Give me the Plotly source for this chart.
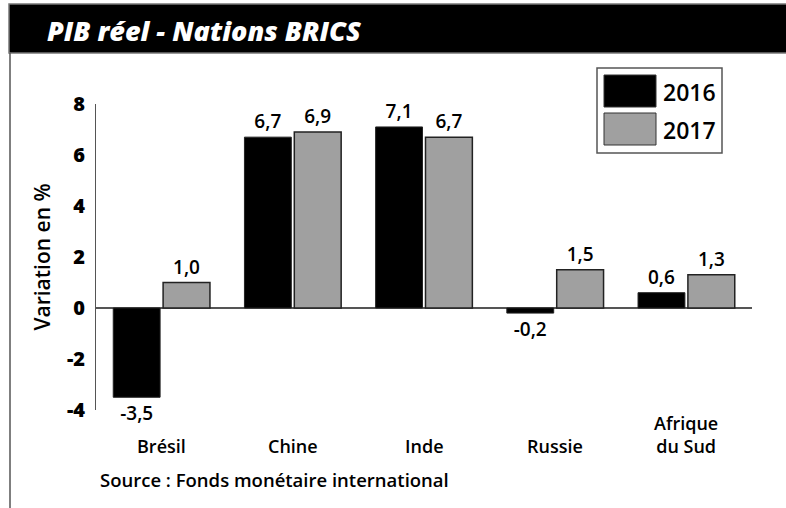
import plotly.graph_objects as go

pays = ["Brésil", "Chine", "Inde", "Russie", "Afrique<br>du Sud"]
pib_2016 = [-3.5, 6.7, 7.1, -0.2, 0.6]
pib_2017 = [1.0, 6.9, 6.7, 1.5, 1.3]
graduations = [-4, -2, 0, 2, 4, 6, 8]
libelles_grad = ["-4", "-2", "0", "2", "4", "6", "8"]

W, H = 786, 508
L, R, T, B = 96, 752, 104, 410
FONT = "Open Sans"


def px_x(x):
    return (x - L) / (R - L)


def px_y(y):
    return (B - y) / (B - T)


fig = go.Figure()
fig.add_trace(go.Bar(x=list(range(5)), y=pib_2016, name="2016",
                     marker=dict(color="#000000", line=dict(color="#222", width=1)),
                     texttemplate="%{y:.1f}", textposition="outside",
                     textfont=dict(size=19, color="black", family=FONT, weight=600),
                     cliponaxis=False, showlegend=False))
fig.add_trace(go.Bar(x=list(range(5)), y=pib_2017, name="2017",
                     marker=dict(color="#a0a0a0", line=dict(color="#222", width=1.5)),
                     texttemplate="%{y:.1f}", textposition="outside",
                     textfont=dict(size=19, color="black", family=FONT, weight=600),
                     cliponaxis=False, showlegend=False))

# bandeau du titre + cadre gauche
fig.add_shape(type="rect", xref="paper", yref="paper", x0=px_x(9), x1=px_x(810),
              y0=px_y(53), y1=px_y(4), fillcolor="black", line=dict(color="#777", width=1.5))
fig.add_shape(type="line", xref="paper", yref="paper", x0=px_x(10), x1=px_x(10),
              y0=px_y(53), y1=px_y(512), line=dict(color="#555", width=1.5))
fig.add_annotation(text="<i>PIB réel - Nations BRICS</i>", xref="paper", yref="paper",
                   x=px_x(45), y=px_y(31), xanchor="left", yanchor="middle", showarrow=False,
                   font=dict(size=27, color="white", family=FONT, weight=800))

# légende dessinée à la main
fig.add_shape(type="rect", xref="paper", yref="paper", x0=px_x(597), x1=px_x(722),
              y0=px_y(153), y1=px_y(68), fillcolor="white", line=dict(color="#555", width=1.5))
for i, (lab, col) in enumerate([("2016", "#000000"), ("2017", "#a0a0a0")]):
    top = 75 + i * 38
    fig.add_shape(type="rect", xref="paper", yref="paper", x0=px_x(604), x1=px_x(656),
                  y0=px_y(top + 32), y1=px_y(top), fillcolor=col, line=dict(color="#333", width=1))
    fig.add_annotation(text=lab, xref="paper", yref="paper", x=px_x(661), y=px_y(top + 17),
                       xanchor="left", yanchor="middle", showarrow=False,
                       font=dict(size=23, color="black", family=FONT, weight=600))

# libellés des pays
for i, p in enumerate(pays):
    fig.add_annotation(text=p, x=i, xref="x", yref="paper", y=px_y(460), yanchor="bottom",
                       showarrow=False, font=dict(size=18, color="black", family=FONT, weight=600))

fig.add_annotation(text="Source : Fonds monétaire international", xref="paper", yref="paper",
                   x=px_x(98), y=px_y(479), xanchor="left", yanchor="middle", showarrow=False,
                   font=dict(size=18.5, color="black", family=FONT, weight=600))

fig.update_layout(
    width=W, height=H,
    margin=dict(l=L, r=W - R, t=T, b=H - B),
    paper_bgcolor="white", plot_bgcolor="white",
    barmode="group", bargap=0.24, bargroupgap=0.06,
    separators=",.",
    font=dict(family=FONT, color="black"),
    xaxis=dict(range=[-0.5, 4.5], showticklabels=False, showgrid=False, zeroline=False,
               showline=False, fixedrange=True),
    yaxis=dict(range=[-4, 8], tickvals=graduations, ticktext=libelles_grad,
               showgrid=False, zeroline=True, zerolinecolor="#555",
               zerolinewidth=1.5, showline=True, linecolor="#555", linewidth=1,
               ticks="outside", ticklen=6, tickcolor="white",
               tickfont=dict(size=20, family=FONT, weight=800),
               title=dict(text="Variation en %", standoff=10,
                          font=dict(size=21, family=FONT, weight=600))),
)

fig.write_html("out.html", config={"displayModeBar": False},
               post_script="document.body.style.margin='0';document.body.style.overflow='hidden';")
